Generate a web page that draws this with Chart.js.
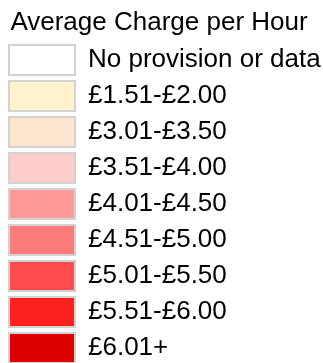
<!DOCTYPE html>
<html lang="en">

<head>
    <meta charset="UTF-8">
    <meta name="viewport" content="width=device-width, initial-scale=1.0">
    <script src="https://cdn.jsdelivr.net/npm/chart.js@4.4.1/dist/chart.umd.min.js"></script>
    <title>Average Charge per Hour</title>
    <style>
        html, body { margin: 0; padding: 0; background: #fff; overflow: hidden; }
        #wrap { width: 323px; height: 375px; }
    </style>
</head>

<body>
    <div id="wrap">
        <canvas id="myChart" width="323" height="375"></canvas>
    </div>

    <script>
const keyTitle = 'Average Charge per Hour'

// charge bands shown in the key
const bands = [
    'No provision or data',
    '£1.51-£2.00',
    '£3.01-£3.50',
    '£3.51-£4.00',
    '£4.01-£4.50',
    '£4.51-£5.00',
    '£5.01-£5.50',
    '£5.51-£6.00',
    '£6.01+'
]

const bandColors = [
    '#ffffff',
    '#fff2cc',
    '#fee5cf',
    '#ffcccc',
    '#ff9a9a',
    '#ff7a7a',
    '#ff4c4c',
    '#ff2020',
    '#df0000'
]

const ctx = document.getElementById('myChart').getContext('2d')

// one empty dataset per band, so the legend builds the key
const datasets = bands.map((band, i) => ({
    label: band,
    data: [],
    backgroundColor: bandColors[i],
    borderColor: '#d2d2d2',
    borderWidth: 2
}))

const font = "'Liberation Sans', Arial, sans-serif"

const myChart = new Chart(ctx, {
    type: 'bar',
    data: { labels: [], datasets: datasets },
    options: {
        responsive: false,
        animation: false,
        devicePixelRatio: 1,
        layout: { padding: { left: 3, right: 8, top: 0 } },
        scales: {
            x: { display: false },
            y: { display: false }
        },
        plugins: {
            tooltip: { enabled: false },
            title: {
                display: true,
                text: keyTitle,
                align: 'center',
                color: '#000',
                font: { family: font, size: 26, weight: 'normal', lineHeight: 1 },
                padding: { top: 10, bottom: 3 }
            },
            legend: {
                position: 'left',
                align: 'start',
                fullSize: false,
                maxWidth: 340,
                labels: {
                    boxWidth: 66,
                    boxHeight: 30,
                    padding: 6,
                    color: '#000',
                    font: { family: font, size: 26 }
                }
            }
        }
    }
})
    </script>
</body>

</html>
